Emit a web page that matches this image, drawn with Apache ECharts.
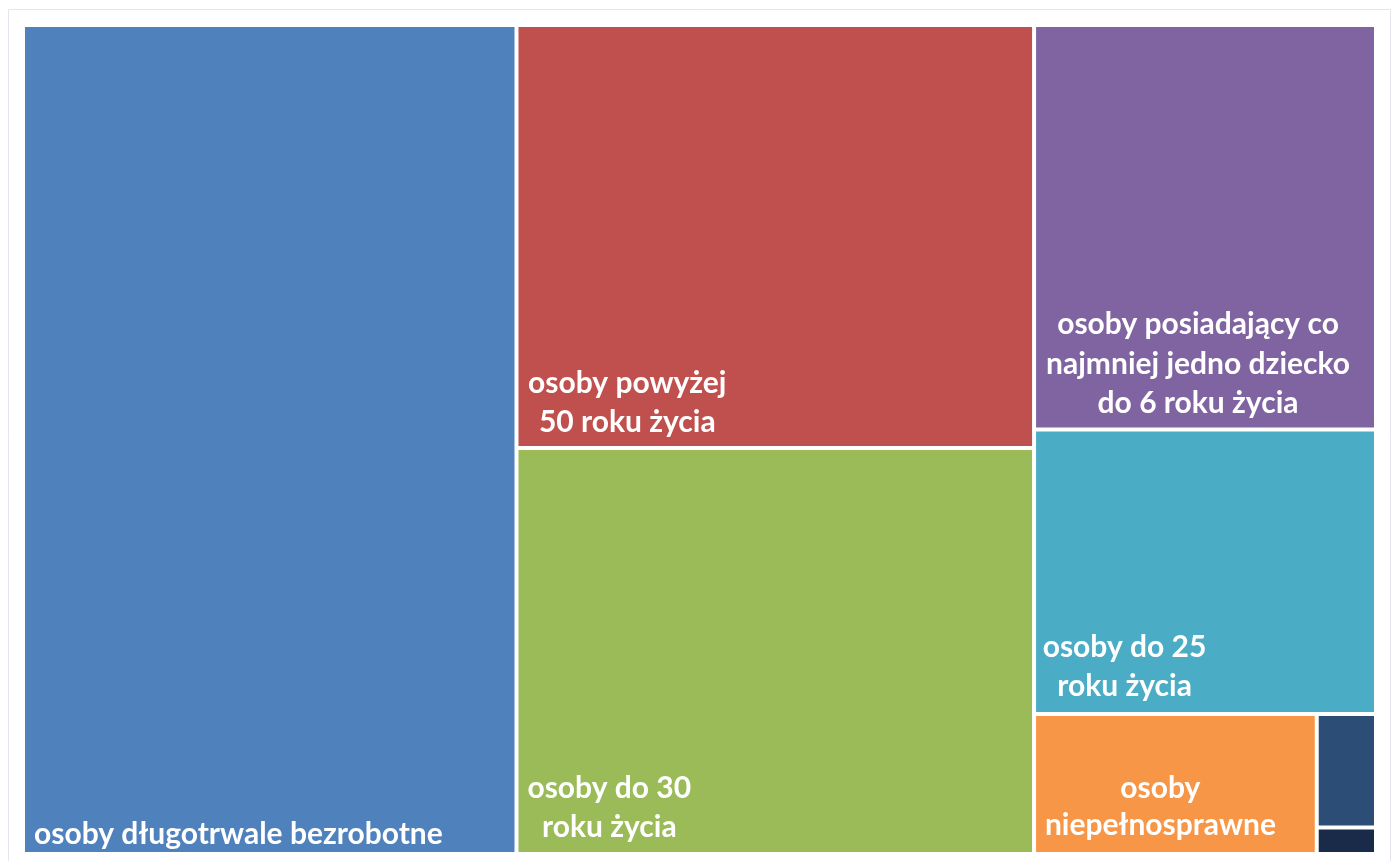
<!DOCTYPE html>
<html>
<head>
<meta charset="utf-8">
<script src="https://cdn.jsdelivr.net/npm/echarts@6/dist/echarts.min.js"></script>
<style>
  html, body { margin: 0; padding: 0; background: #ffffff; }
  #chart { width: 1394px; height: 861px; }
</style>
</head>
<body>
<div id="chart"></div>
<script>
// ---- data (share of the area, %) ----
const categories = [
  'osoby długotrwale bezrobotne',
  'osoby powyżej 50 roku życia',
  'osoby do 30 roku życia',
  'osoby posiadający co najmniej jedno dziecko do 6 roku życia',
  'osoby do 25 roku życia',
  'osoby niepełnosprawne',
  'pozostałe grupy',
  'inne'
];
const values = [36.47, 19.52, 18.73, 12.33, 8.67, 3.53, 0.60, 0.14];
const labelTexts = [
  'osoby długotrwale bezrobotne',
  'osoby powyżej\n50 roku życia',
  'osoby do 30\nroku życia',
  'osoby posiadający co\nnajmniej jedno dziecko\ndo 6 roku życia',
  'osoby do 25\nroku życia',
  'osoby\nniepełnosprawne',
  '',
  ''
];

// ---- styling ----
const colors = ['#4F81BD', '#C0504D', '#9BBB59', '#8064A2', '#4BACC6', '#F79646', '#2C4D75', '#1A2B4A'];
// label placement inside each cell: [top, right, bottom, left] padding
const labelStyles = [
  { position: 'insideTopLeft', align: 'left', lineHeight: 34, padding: [790, 0, 0, 9] },
  { position: 'insideTop', align: 'center', lineHeight: 39, padding: [337, 296, 0, 0] },
  { position: 'insideTop', align: 'center', lineHeight: 39, padding: [319, 332, 0, 0] },
  { position: 'insideTop', align: 'center', lineHeight: 39.5, padding: [278, 14, 0, 0] },
  { position: 'insideTop', align: 'center', lineHeight: 39.5, padding: [196, 161, 0, 0] },
  { position: 'insideTop', align: 'center', lineHeight: 37, padding: [54, 30, 0, 0] },
  { show: false },
  { show: false }
];

const seriesData = categories.map((name, i) => ({
  name: name,
  value: values[i],
  itemStyle: { color: colors[i] },
  label: Object.assign({ formatter: labelTexts[i] }, labelStyles[i])
}));

const chart = echarts.init(document.getElementById('chart'), null, { renderer: 'canvas' });
chart.setOption({
  animation: false,
  backgroundColor: '#ffffff',
  graphic: [{
    type: 'rect', silent: true, z: -1,
    shape: { x: 8.5, y: 9.5, width: 1382, height: 870 },
    style: { fill: 'none', stroke: '#E4E6EE', lineWidth: 1 }
  }],
  series: [{
    type: 'treemap',
    left: 25, top: 27, width: 1349, height: 825,
    roam: false,
    nodeClick: false,
    squareRatio: 1,
    sort: 'desc',
    breadcrumb: { show: false },
    levels: [{ itemStyle: { borderWidth: 0, gapWidth: 4, borderColor: '#ffffff' } }],
    itemStyle: { borderWidth: 0, gapWidth: 4, borderColor: '#ffffff' },
    label: {
      show: true,
      color: '#ffffff',
      fontFamily: 'Lato',
      fontWeight: 'bold',
      fontSize: 30,
      overflow: 'none',
      distance: 0
    },
    emphasis: { disabled: true },
    data: seriesData
  }]
});
</script>
</body>
</html>
